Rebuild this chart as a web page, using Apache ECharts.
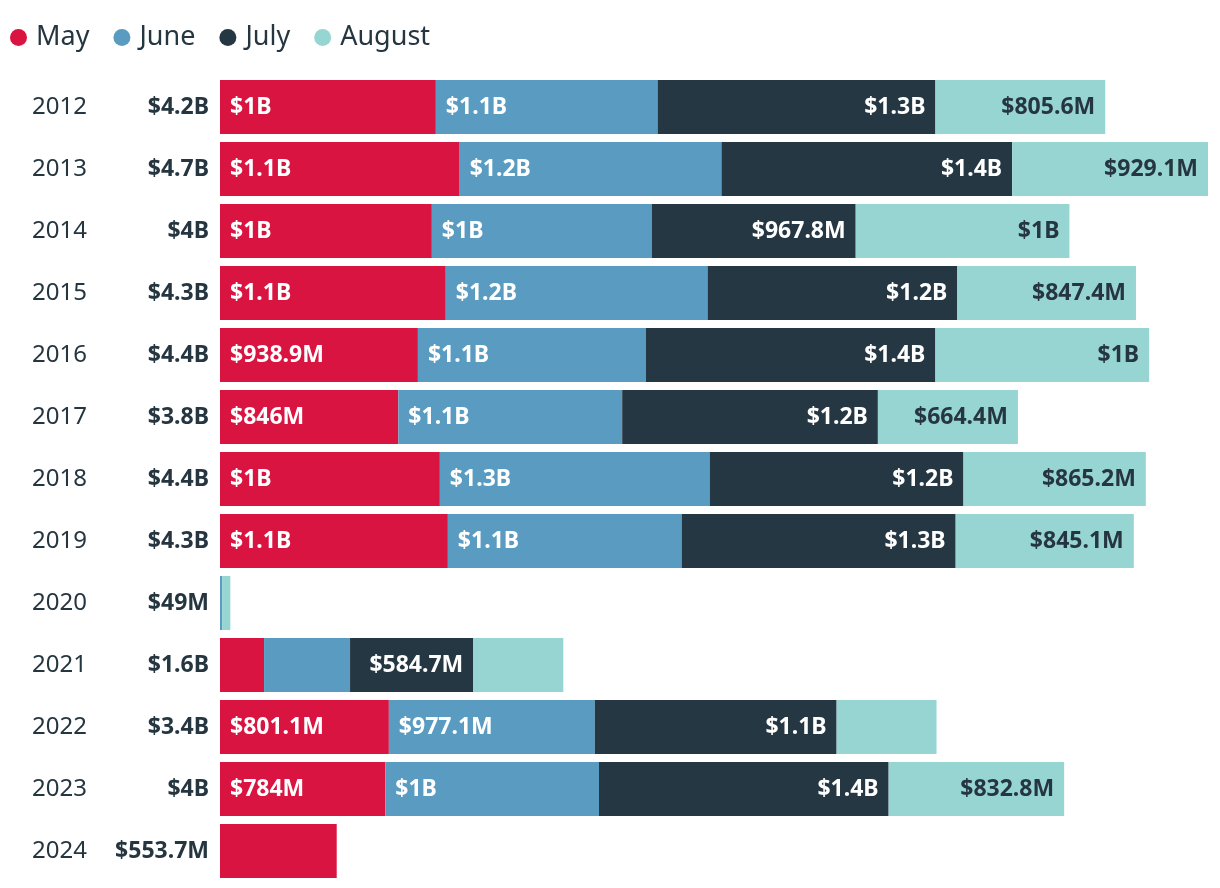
<!DOCTYPE html>
<html>
<head>
<meta charset="utf-8">
<script src="https://cdn.jsdelivr.net/npm/echarts@6/dist/echarts.min.js"></script>
<style>
html,body{margin:0;padding:0;background:#fff;}
#chart{width:1220px;height:888px;}
</style>
</head>
<body>
<div id="chart"></div>
<script>
// Values in billions of dollars
const years = ['2012','2013','2014','2015','2016','2017','2018','2019','2020','2021','2022','2023','2024'];
const seriesNames = ['May','June','July','August'];
const may    = [1.024, 1.137, 1.005, 1.071, 0.9389, 0.846, 1.043, 1.081, 0,     0.209, 0.8011, 0.784, 0.5537];
const june   = [1.052, 1.242, 1.043, 1.242, 1.081,  1.062, 1.280, 1.109, 0.010, 0.408, 0.9771, 1.014, 0];
const july   = [1.318, 1.379, 0.9678,1.185, 1.374,  1.213, 1.204, 1.300, 0,     0.5847,1.147,  1.374, 0];
const august = [0.8056,0.9291,1.014, 0.8474,1.014,  0.6644,0.8652,0.8451,0.039, 0.427, 0.474,  0.8328,0];

const colors = ['#D91440', '#5A9BC2', '#253742', '#97D5D2'];
const textDark = '#263640';
const FONT = '"Noto Sans", sans-serif';

function fmt(v) {
  if (v >= 1) {
    let s = (Math.round(v * 10) / 10).toFixed(1).replace(/\.0$/, '');
    return '$' + s + 'B';
  }
  let s = (v * 1000).toFixed(1).replace(/\.0$/, '');
  return '$' + s + 'M';
}
const allSeries = [may, june, july, august];
const totals = years.map((_, i) => allSeries.reduce((a, s) => a + s[i], 0));

function labelFor(pos, color) {
  return {
    show: true,
    position: pos,
    distance: 10,
    color: color,
    fontFamily: FONT,
    fontSize: 23,
    fontWeight: 'bold',
    formatter: p => (p.value >= 0.57 ? fmt(p.value) : '')
  };
}
const labelCfg = [
  labelFor('insideLeft', '#fff'),
  labelFor('insideLeft', '#fff'),
  labelFor('insideRight', '#fff'),
  labelFor('insideRight', textDark)
];

const chart = echarts.init(document.getElementById('chart'), null, {renderer: 'canvas'});
chart.setOption({
  animation: false,
  backgroundColor: '#fff',
  legend: {
    left: 5,
    top: 19,
    icon: 'circle',
    itemWidth: 17,
    itemHeight: 17,
    itemGap: 24,
    textStyle: {fontFamily: FONT, fontSize: 27, color: textDark, padding: [0, 0, 0, 4]},
    data: seriesNames
  },
  grid: {left: 220, right: 12, top: 76, height: 806, containLabel: false},
  xAxis: {
    type: 'value',
    min: 0,
    max: 'dataMax',
    show: false
  },
  yAxis: {
    type: 'category',
    inverse: true,
    data: years,
    axisLine: {show: false},
    axisTick: {show: false},
    axisLabel: {
      margin: 11,
      align: 'right',
      formatter: (v, i) => '{y|' + v + '}{t|' + fmt(totals[i]) + '}',
      rich: {
        y: {fontFamily: FONT, fontSize: 24, color: textDark, width: 80, align: 'left'},
        t: {fontFamily: FONT, fontSize: 23, fontWeight: 'bold', color: textDark, width: 97, align: 'right'}
      }
    }
  },
  series: seriesNames.map((name, k) => ({
    name: name,
    type: 'bar',
    stack: 'total',
    barWidth: 54,
    itemStyle: {color: colors[k]},
    label: labelCfg[k],
    data: allSeries[k]
  }))
});
</script>
</body>
</html>
